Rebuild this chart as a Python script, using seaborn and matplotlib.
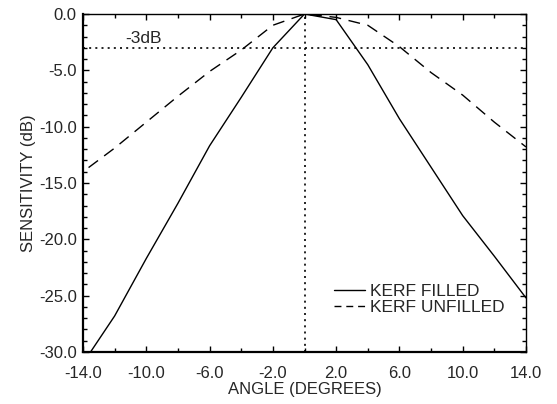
import matplotlib
matplotlib.use("Agg")
import matplotlib.pyplot as plt
import seaborn as sns
import pandas as pd
from matplotlib.ticker import MultipleLocator, FixedLocator

angles = [-14, -12, -10, -8, -6, -4, -2, 0, 2, 4, 6, 8, 10, 12, 14]
kerf_filled = [-31.0, -26.8, -21.7, -16.8, -11.7, -7.4, -3.0, 0.0, -0.5, -4.5, -9.3, -13.6, -17.9, -21.5, -25.2]
kerf_unfilled = [-14.0, -11.9, -9.6, -7.3, -5.1, -3.2, -1.0, 0.0, -0.3, -1.0, -2.9, -5.2, -7.2, -9.6, -11.8]
series_names = ["KERF FILLED", "KERF UNFILLED"]
x_ticklabels = ["-14.0", "-10.0", "-6.0", "-2.0", "2.0", "6.0", "10.0", "14.0"]
y_ticklabels = ["-30.0", "-25.0", "-20.0", "-15.0", "-10.0", "-5.0", "0.0"]

df = pd.DataFrame({
    "angle": angles * 2,
    "sens": kerf_filled + kerf_unfilled,
    "series": [series_names[0]] * len(angles) + [series_names[1]] * len(angles),
})

sns.set_style("ticks")
plt.rcParams["font.family"] = ["Liberation Sans", "DejaVu Sans"]

fig = plt.figure(figsize=(5.57, 4.04), dpi=100)
ax = fig.add_axes([83 / 557, 1 - 352 / 404, (526 - 83) / 557, (352 - 14) / 404])

sns.lineplot(data=df, x="angle", y="sens", hue="series", style="series",
             palette=["black", "black"], dashes={series_names[0]: "", series_names[1]: (8.5, 5.5)},
             linewidth=1.0, ax=ax, legend=True)
ax.lines[1].set_linestyle((9.0, (8.5, 5.5)))

ax.axhline(-3, color="black", lw=1.2, ls=(0, (1.2, 2.5)))
ax.axvline(0, color="black", lw=1.2, ls=(0, (1.2, 2.5)))
ax.text(-11.3, -2.55, "-3dB", fontsize=12.5, ha="left", va="baseline")

ax.set_xlim(-14, 14)
ax.set_ylim(-30, 0)
xt = [float(t) for t in x_ticklabels]
yt = [float(t) for t in y_ticklabels]
ax.xaxis.set_major_locator(FixedLocator(xt))
ax.set_xticklabels(x_ticklabels)
ax.xaxis.set_minor_locator(MultipleLocator(2))
ax.yaxis.set_major_locator(FixedLocator(yt))
ax.set_yticklabels(y_ticklabels)
ax.yaxis.set_minor_locator(MultipleLocator(1))
ax.tick_params(which="both", direction="in", top=True, right=True, labelsize=12, color="black", width=1.0)
ax.tick_params(which="major", length=4.3)
ax.tick_params(which="minor", length=3)
ax.tick_params(axis="x", which="major", pad=10)
ax.tick_params(axis="y", which="major", pad=4.5)
for s in ax.spines.values():
    s.set_visible(True)
    s.set_color("black")
    s.set_linewidth(1.0)
ax.spines["left"].set_linewidth(1.6)
ax.spines["bottom"].set_linewidth(1.6)

ax.set_xlabel("ANGLE (DEGREES)", fontsize=12, labelpad=1)
ax.set_ylabel("SENSITIVITY (dB)", fontsize=12, labelpad=2)

leg = ax.legend(loc="upper left", bbox_to_anchor=(0.5666, 0.2027), frameon=False, fontsize=12.5,
                handlelength=1.78, handletextpad=0.29, labelspacing=0.08, borderaxespad=0, borderpad=0)
lh = leg.get_lines()
for h in lh:
    h.set_linewidth(1.0)
lh[1].set_linestyle((0, (5, 3.5)))

fig.savefig("out.png", dpi=100)
